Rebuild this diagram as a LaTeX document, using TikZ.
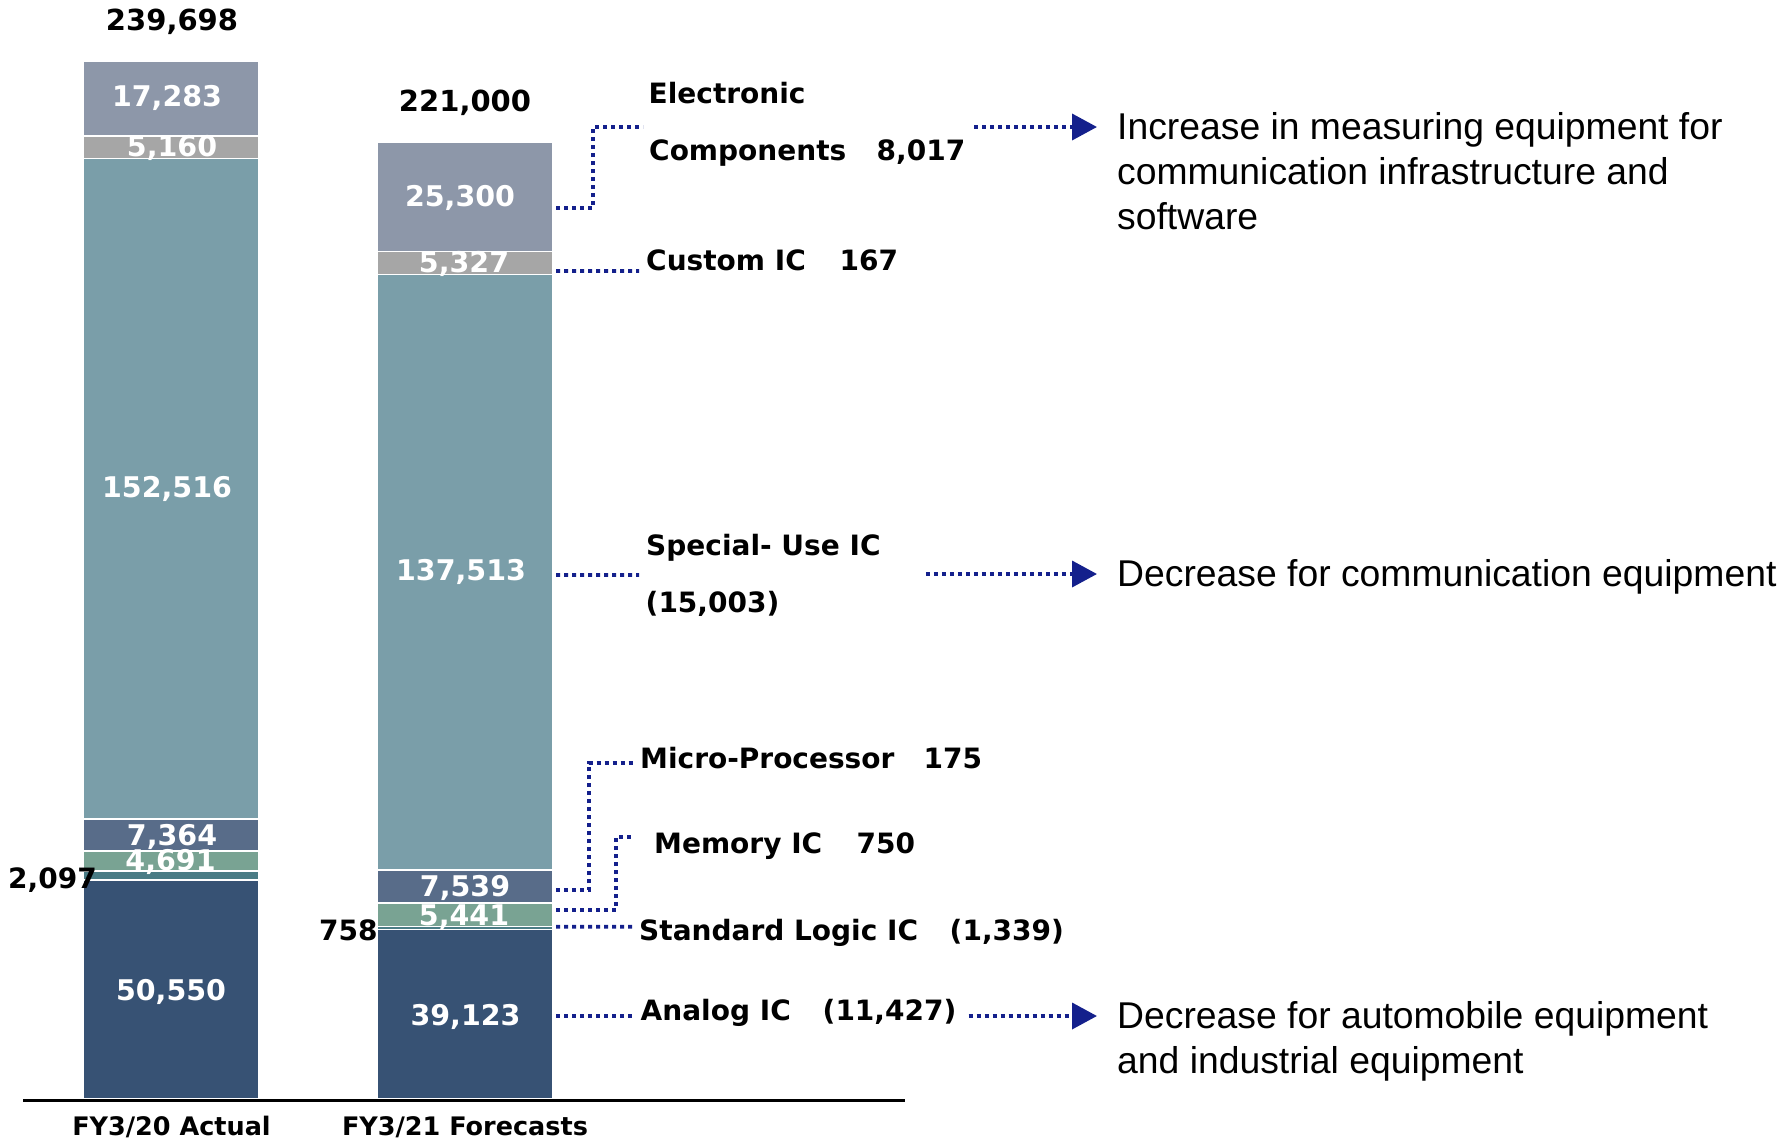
\documentclass[tikz,border=0pt]{standalone}
\usepackage{fontspec}
\usetikzlibrary{arrows.meta,calc}
\newfontfamily\dvfont{DejaVu Sans}
\newfontfamily\libfont{Liberation Sans}
\definecolor{cEC}{HTML}{8D97A9}
\definecolor{cCU}{HTML}{A6A6A6}
\definecolor{cSP}{HTML}{7A9EA9}
\definecolor{cMP}{HTML}{586C89}
\definecolor{cME}{HTML}{79A393}
\definecolor{cSL}{HTML}{4A7C85}
\definecolor{cAN}{HTML}{375274}
\definecolor{navyc}{RGB}{20,32,140}
\begin{document}
\begin{tikzpicture}[x=1pt,y=-1pt,
  seg/.style={draw=white, line width=1.6pt, minimum width=176pt, inner sep=0pt, outer sep=0pt, anchor=south},
  val/.style={font={\dvfont\bfseries\fontsize{28.5}{30}\selectfont}, text=white, inner sep=0pt, anchor=base},
  tot/.style={font={\dvfont\bfseries\fontsize{29}{31}\selectfont}, text=black, inner sep=0pt, anchor=base},
  cat/.style={font={\dvfont\bfseries\fontsize{25.5}{28}\selectfont}, text=black, inner sep=0pt, anchor=base},
  lab/.style={font={\dvfont\bfseries\fontsize{28}{30}\selectfont}, text=black, inner sep=0pt, anchor=base west},
  desc/.style={font={\libfont\fontsize{37.3}{45}\selectfont}, text=black, inner sep=0pt, anchor=base west},
  conn/.style={draw=navyc, line width=3.7pt, dash pattern=on 4pt off 4pt},
  arr/.style={conn, -{Triangle[length=25pt,width=26pt]}}]
\useasboundingbox (0,0) rectangle (1792,1141);
\fill[white] (0,0) rectangle (1792,1141);

% Left bar FY3/20
\node[seg, fill=cAN, minimum height=218.9pt] (LAN) at (171,1099) {};
\node[seg, fill=cSL, minimum height=9.1pt]   (LSL) at (171,880.1) {};
\node[seg, fill=cME, minimum height=20.3pt]  (LME) at (171,871.0) {};
\node[seg, fill=cMP, minimum height=31.9pt]  (LMP) at (171,850.7) {};
\node[seg, fill=cSP, minimum height=660.5pt] (LSP) at (171,818.8) {};
\node[seg, fill=cCU, minimum height=22.3pt]  (LCU) at (171,158.3) {};
\node[seg, fill=cEC, minimum height=74.9pt]  (LEC) at (171,136.0) {};

% Right bar FY3/21
\node[seg, fill=cAN, minimum height=169.4pt] (RAN) at (465,1099) {};
\node[seg, fill=cSL, minimum height=3.3pt]   (RSL) at (465,929.6) {};
\node[seg, fill=cME, minimum height=23.6pt]  (RME) at (465,926.3) {};
\node[seg, fill=cMP, minimum height=32.6pt]  (RMP) at (465,902.7) {};
\node[seg, fill=cSP, minimum height=595.5pt] (RSP) at (465,870.1) {};
\node[seg, fill=cCU, minimum height=23.1pt]  (RCU) at (465,274.6) {};
\node[seg, fill=cEC, minimum height=109.6pt] (REC) at (465,251.5) {};

% axis
\draw[black, line width=2.4pt] (23,1100.3) -- (905,1100.3);

% values in bars
\node[val] (vLEC) at (167,106.5) {17,283};
\node[val] (vLCU) at (172,156) {5,160};
\node[val] (vLSP) at (167,497) {152,516};
\node[val] (vLMP) at (172,845) {7,364};
\node[val] (vLME) at (170.5,870) {4,691};
\node[val] (vLAN) at (171,1000) {50,550};
\node[val] (vREC) at (460,206) {25,300};
\node[val] (vRCU) at (464,272.7) {5,327};
\node[val] (vRSP) at (461,580) {137,513};
\node[val] (vRMP) at (465,896.7) {7,539};
\node[val] (vRME) at (464,925) {5,441};
\node[val] (vRAN) at (465.5,1025) {39,123};

% outside values
\node[lab] (oL) at (8,888) {2,097};
\node[lab] (oR) at (319,940) {758};

% totals
\node[tot] (tL) at (172,30.7) {239,698};
\node[tot] (tR) at (465,111.7) {221,000};

% categories
\node[cat] (cL) at (171.5,1135) {FY3/20 Actual};
\node[cat] (cR) at (465,1135) {FY3/21 Forecasts};

% side labels
\node[lab] (lEC1) at (648.5,103) {Electronic};
\node[lab] (lEC2) at (649,160) {\makebox[227.5pt][l]{Components}8,017};
\node[lab] (lCU) at (646,270) {\makebox[193.5pt][l]{Custom IC}167};
\node[lab] (lSP1) at (646,555) {Special- Use IC};
\node[lab] (lSP2) at (645.5,612) {(15,003)};
\node[lab] (lMP) at (640,768) {\makebox[283.5pt][l]{Micro-Processor}175};
\node[lab] (lME) at (654,853) {\makebox[202.5pt][l]{Memory IC}750};
\node[lab] (lSL) at (639,940) {\makebox[310.5pt][l]{Standard Logic IC}(1,339)};
\node[lab] (lAN) at (640.5,1020) {\makebox[182pt][l]{Analog IC}(11,427)};

% descriptions
\node[desc] (d1a) at (1117,139) {Increase in measuring equipment for};
\node[desc] (d1b) at (1117,184) {communication infrastructure and};
\node[desc] (d1c) at (1117,229) {software};
\node[desc] (d2) at (1117,586.5) {Decrease for communication equipment};
\node[desc] (d3a) at (1117,1028) {Decrease for automobile equipment};
\node[desc] (d3b) at (1117,1073) {and industrial equipment};

% connectors bar -> labels
\draw[conn] ($(REC.east)+(3,11.3)$) -- ++(37,0) |- ($(lEC2.base west)+(-6,-33)$);
\draw[conn] ($(RCU.east)+(3,8)$) -- ($(lCU.base west)+(-7,1)$);
\draw[conn] ($(RSP.east)+(3,2.6)$) -- ($(lSP1.base west)+(-7,20)$);
\draw[conn] ($(RMP.east)+(3,3.6)$) -- ++(33,0) |- ($(lMP.base west)+(-6,-5.3)$);
\draw[conn] ($(RME.east)+(3,-4.5)$) -- ++(60,0) |- ($(lME.base west)+(-22,-16)$);
\draw[conn] ($(RSL.east)+(3,-1.3)$) -- ($(lSL.base west)+(-6,-13.3)$);
\draw[conn] ($(RAN.east)+(3,1.7)$) -- ($(lAN.base west)+(-7,-4)$);

% arrows labels -> descriptions
\draw[arr] ($(lEC2.base east)+(9,-33)$) -- ($(d1a.base west)+(-20,-12)$);
\draw[arr] ($(lSP1.base east)+(45,19)$) -- ($(d2.base west)+(-20,-12.5)$);
\draw[arr] ($(lAN.base east)+(12,-4)$) -- ($(d3a.base west)+(-20,-12)$);
\end{tikzpicture}
\end{document}
